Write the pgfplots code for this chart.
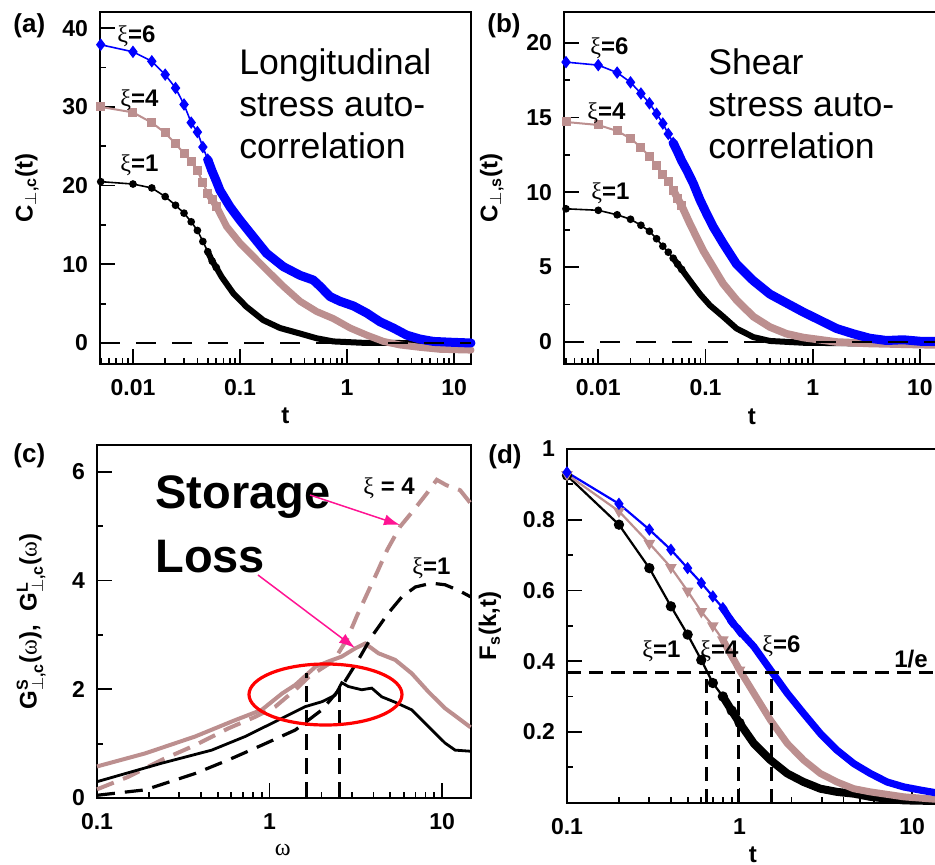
\documentclass[border=0pt]{standalone}
\usepackage{amsmath}
\usepackage{pgfplots}
\pgfplotsset{compat=1.18}
\usepackage{fontspec}
\setmainfont{Liberation Sans}
\newfontfamily\grk{Liberation Serif}
\usetikzlibrary{arrows.meta}
\definecolor{rb}{RGB}{188,143,143}
\definecolor{myblue}{RGB}{0,0,255}
\definecolor{hpink}{RGB}{255,20,147}
\newcommand{\xil}[1]{{\grk\mdseries ξ}\textbf{#1}}
\begin{document}
\begin{tikzpicture}
% ---------------- (a) ----------------
\begin{axis}[scale only axis, xmode=log, clip=false,
  axis line style={line width=1pt},
  tick style={black, line width=0.9pt},
  major tick length=7.5pt, minor tick length=3pt,
  tick align=inside, xtick pos=bottom, ytick pos=left,
  ticklabel style={font=\bfseries\fontsize{11.5}{12}\selectfont},
  /pgf/number format/assume math mode=true,
  xticklabel style={yshift=-4.4pt},
  yticklabel style={xshift=-2.5pt},
  label style={font=\bfseries\fontsize{12}{13}\selectfont},
  at={(50pt,-6pt)}, anchor=north west,
  width=185.5pt, height=176pt,
  xmin=0.00492, xmax=14.4, ymin=-2.67, ymax=42.06,
  xtick={0.01,0.1,1,10}, xticklabels={0.01,0.1,1,10},
  minor xtick={0.005,0.006,0.007,0.008,0.009,0.02,0.03,0.04,0.05,0.06,0.07,0.08,0.09,0.2,0.3,0.4,0.5,0.6,0.7,0.8,0.9,2,3,4,5,6,7,8,9},
  ytick={0,10,20,30,40}, minor ytick={5,15,25,35},
  ylabel={C\textsubscript{$\perp$,c}(t)}, xlabel={t},
  ylabel style={at={(axis description cs:-0.197,0.5)}, anchor=center},
  xlabel style={at={(axis description cs:0.5,-0.148)}, anchor=center},
]
\addplot[black, line width=0.8pt, mark=*, mark size=1.5pt] coordinates {(0.005,20.5) (0.01,20.2) (0.015,19.7) (0.02,18.6) (0.025,17.5) (0.03,16.5) (0.035,15.4) (0.04,14.3) (0.045,12.9) (0.05,11.6) (0.055,10.4) (0.06,9.6)};
\addplot[black, line join=round, line cap=round, line width=3pt] coordinates {(0.05,11.6) (0.055,10.4) (0.06,9.6) (0.0674,8.4) (0.0867,6.3) (0.115,4.6) (0.165,2.9) (0.237,1.9) (0.364,1.2) (0.52,0.6) (0.745,0.2) (1.53,0.0) (3.13,0.0) (6.4,-0.1) (14.4,-0.1)};
\addplot[rb, line width=1pt, mark=square*, mark size=1.75pt] coordinates {(0.005,30.0) (0.01,29.3) (0.015,28.0) (0.02,26.7) (0.025,25.3) (0.03,24.1) (0.035,23.0) (0.04,21.9) (0.045,20.4) (0.05,19.0) (0.055,18.2) (0.06,17.4)};
\addplot[rb, line join=round, line cap=round, line width=3.5pt] coordinates {(0.05,19.0) (0.055,18.2) (0.06,17.4) (0.075,14.8) (0.1,12.7) (0.133,11.0) (0.177,9.3) (0.254,7.2) (0.364,5.3) (0.52,4.0) (0.745,3.1) (1.07,1.9) (1.53,1.0) (2.19,0.2) (3.13,-0.25) (4.8,-0.55) (7.4,-0.8) (14.4,-0.9)};
\addplot[myblue, line width=0.8pt, mark=diamond*, mark size=2.5pt] coordinates {(0.005,37.9) (0.01,37.0) (0.015,35.8) (0.02,34.1) (0.025,32.4) (0.03,30.3) (0.035,28.0) (0.04,26.8) (0.045,24.9) (0.05,23.3) (0.055,21.8) (0.06,20.6)};
\addplot[myblue, line join=round, line cap=round, line width=4.5pt] coordinates {(0.05,23.3) (0.055,21.8) (0.06,20.6) (0.065,19.4) (0.0807,17.3) (0.1,15.6) (0.133,13.5) (0.177,11.4) (0.254,9.7) (0.364,8.6) (0.484,8.0) (0.56,7.2) (0.693,5.9) (0.861,5.3) (1.15,4.7) (1.53,3.8) (2.03,2.7) (2.71,1.9) (3.61,1.0) (4.81,0.5) (6.41,0.2) (9.18,0.1) (14.4,0.0)};
\addplot[black, line width=1.2pt, dash pattern=on 10pt off 8pt] coordinates {(0.00492,0) (14.4,0)};
\end{axis}
% ---------------- (b) ----------------
\begin{axis}[scale only axis, xmode=log, clip=false,
  axis line style={line width=1pt},
  tick style={black, line width=0.9pt},
  major tick length=7.5pt, minor tick length=3pt,
  tick align=inside, xtick pos=bottom, ytick pos=left,
  ticklabel style={font=\bfseries\fontsize{11.5}{12}\selectfont},
  /pgf/number format/assume math mode=true,
  xticklabel style={yshift=-4.4pt},
  yticklabel style={xshift=-2.5pt},
  label style={font=\bfseries\fontsize{12}{13}\selectfont},
  at={(282pt,-6pt)}, anchor=north west,
  width=187pt, height=176pt,
  xmin=0.00479, xmax=14.75, ymin=-1.47, ymax=22.05,
  xtick={0.01,0.1,1,10}, xticklabels={0.01,0.1,1,10},
  minor xtick={0.005,0.006,0.007,0.008,0.009,0.02,0.03,0.04,0.05,0.06,0.07,0.08,0.09,0.2,0.3,0.4,0.5,0.6,0.7,0.8,0.9,2,3,4,5,6,7,8,9},
  ytick={0,5,10,15,20}, minor ytick={2.5,7.5,12.5,17.5},
  ylabel={C\textsubscript{$\perp$,s}(t)}, xlabel={t},
  ylabel style={at={(axis description cs:-0.193,0.5)}, anchor=center},
  xlabel style={at={(axis description cs:0.502,-0.150)}, anchor=center},
]
\addplot[black, line width=0.8pt, mark=*, mark size=1.5pt] coordinates {(0.005,8.9) (0.01,8.8) (0.015,8.5) (0.02,8.2) (0.025,7.8) (0.03,7.4) (0.035,6.9) (0.04,6.4) (0.045,6.0) (0.05,5.6) (0.055,5.2) (0.06,4.85)};
\addplot[black, line join=round, line cap=round, line width=3pt] coordinates {(0.05,5.6) (0.055,5.2) (0.06,4.85) (0.0716,4.1) (0.0888,3.2) (0.11,2.45) (0.146,1.7) (0.195,0.9) (0.279,0.33) (0.399,0.07) (0.816,-0.05) (3.4,-0.1) (14.75,-0.1)};
\addplot[rb, line width=1pt, mark=square*, mark size=1.75pt] coordinates {(0.005,14.7) (0.01,14.5) (0.015,14.1) (0.02,13.6) (0.025,13.0) (0.03,12.4) (0.035,11.8) (0.04,11.2) (0.045,10.7) (0.05,10.15) (0.055,9.6) (0.06,9.1)};
\addplot[rb, line join=round, line cap=round, line width=3.8pt] coordinates {(0.05,10.15) (0.055,9.6) (0.06,9.1) (0.0716,7.9) (0.0826,7.0) (0.0953,6.1) (0.118,5.0) (0.146,3.9) (0.195,2.8) (0.279,1.7) (0.399,1.0) (0.57,0.55) (0.816,0.3) (1.67,0.0) (3.41,-0.1) (7,-0.15) (14.75,-0.2)};
\addplot[myblue, line width=0.8pt, mark=diamond*, mark size=2.5pt] coordinates {(0.005,18.7) (0.01,18.5) (0.015,18.0) (0.02,17.35) (0.025,16.6) (0.03,15.95) (0.035,15.25) (0.04,14.6) (0.045,13.9) (0.05,13.3) (0.055,12.7) (0.06,12.1)};
\addplot[myblue, line join=round, line cap=round, line width=4.5pt] coordinates {(0.05,13.3) (0.055,12.7) (0.06,12.1) (0.0667,11.5) (0.0769,10.6) (0.0888,9.5) (0.102,8.6) (0.118,7.7) (0.146,6.6) (0.195,5.2) (0.279,4.1) (0.399,3.2) (0.57,2.6) (0.816,2.0) (1.17,1.45) (1.67,0.9) (2.39,0.55) (3.41,0.25) (4.89,0.1) (7,0.15) (10,0.05) (14.75,0.05)};
\addplot[black, line width=1.2pt, dash pattern=on 10pt off 8pt] coordinates {(0.00479,0) (14.75,0)};
\end{axis}
% ---------------- (c) ----------------
\begin{axis}[scale only axis, xmode=log, clip=false,
  axis line style={line width=1pt},
  tick style={black, line width=0.9pt},
  major tick length=7.5pt, minor tick length=3pt,
  tick align=inside, xtick pos=bottom, ytick pos=left,
  ticklabel style={font=\bfseries\fontsize{11.5}{12}\selectfont},
  /pgf/number format/assume math mode=true,
  xticklabel style={yshift=-4.4pt},
  yticklabel style={xshift=-2.5pt},
  label style={font=\bfseries\fontsize{12}{13}\selectfont},
  at={(48.5pt,-222.5pt)}, anchor=north west,
  width=187pt, height=176.5pt,
  xmin=0.1, xmax=14.7, ymin=0, ymax=6.49,
  xtick={0.1,1,10}, xticklabels={0.1,1,10},
  minor xtick={0.2,0.3,0.4,0.5,0.6,0.7,0.8,0.9,2,3,4,5,6,7,8,9},
  ytick={0,2,4,6}, minor ytick={1,3,5},
  ylabel={G$^{\textbf{S}}_{\perp\textbf{,c}}$({\grk\mdseries ω}),\ \ G$^{\textbf{L}}_{\perp\textbf{,c}}$({\grk\mdseries ω})},
  xlabel={{\grk\mdseries ω}},
  ylabel style={at={(axis description cs:-0.176,0.5)}, anchor=center},
  xlabel style={at={(axis description cs:0.497,-0.147)}, anchor=center},
]
\addplot[rb, line width=2pt] coordinates {(0.1,0.58) (0.19,0.82) (0.37,1.13) (0.63,1.43) (0.90,1.62) (1.18,1.92) (1.41,2.08) (1.84,2.41) (2.19,2.51) (2.62,2.60) (3.13,2.75) (3.58,2.84) (4.28,2.66) (5.34,2.54) (6.67,2.29) (8.34,1.95) (10.4,1.65) (13.0,1.42) (14.6,1.30)};
\addplot[rb, line width=2pt, dash pattern=on 9pt off 5pt] coordinates {(0.1,0.16) (0.152,0.39) (0.237,0.70) (0.37,0.97) (0.577,1.28) (0.823,1.49) (1.08,1.68) (1.41,1.99) (1.68,2.22) (2.0,2.38) (2.35,2.52) (2.81,2.92) (3.21,3.35) (3.67,3.75) (4.20,4.15) (4.80,4.56) (5.71,4.99) (6.83,5.29) (8.15,5.60) (9.31,5.85) (10.6,5.75) (12.7,5.66) (14.6,5.42)};
\addplot[black, line width=1.4pt] coordinates {(0.1,0.30) (0.237,0.64) (0.462,0.88) (0.721,1.13) (1.12,1.43) (1.61,1.68) (2.01,1.77) (2.40,1.89) (2.62,2.12) (2.86,2.05) (3.42,1.99) (3.91,2.02) (4.47,1.86) (5.35,1.76) (6.67,1.62) (8.34,1.31) (10.4,1.01) (11.9,0.88) (14.6,0.86)};
\addplot[black, line width=1.6pt, dash pattern=on 9pt off 5pt] coordinates {(0.1,0.05) (0.19,0.15) (0.37,0.45) (0.577,0.70) (0.90,0.97) (1.41,1.25) (2.01,1.62) (2.62,2.05) (3.27,2.54) (3.91,2.97) (4.88,3.40) (5.85,3.70) (7.0,3.88) (8.7,3.95) (10.4,3.92) (12.4,3.82) (14.6,3.70)};
\addplot[black, line width=1.4pt, dash pattern=on 8pt off 4pt] coordinates {(1.64,0) (1.64,2.29)};
\addplot[black, line width=1.4pt, dash pattern=on 8pt off 4pt] coordinates {(2.54,0) (2.54,2.08)};
\end{axis}
% ---------------- (d) ----------------
\begin{axis}[scale only axis, xmode=log, clip=false,
  axis line style={line width=1pt},
  tick style={black, line width=0.9pt},
  major tick length=7.5pt, minor tick length=3pt,
  tick align=inside, xtick pos=bottom, ytick pos=left,
  ticklabel style={font=\bfseries\fontsize{11.5}{12}\selectfont},
  /pgf/number format/assume math mode=true,
  xticklabel style={yshift=-4.4pt},
  yticklabel style={xshift=-2.5pt},
  label style={font=\bfseries\fontsize{12}{13}\selectfont},
  at={(283.5pt,-224.5pt)}, anchor=north west,
  width=187pt, height=176.75pt,
  xmin=0.1, xmax=14.7, ymin=0, ymax=1,
  xtick={0.1,1,10}, xticklabels={0.1,1,10},
  minor xtick={0.2,0.3,0.4,0.5,0.6,0.7,0.8,0.9,2,3,4,5,6,7,8,9},
  ytick={0.2,0.4,0.6,0.8,1}, yticklabels={0.2,0.4,0.6,0.8,1},
  minor ytick={0.1,0.3,0.5,0.7,0.9},
  ylabel={F\textsubscript{s}(k,t)}, xlabel={t},
  ylabel style={at={(axis description cs:-0.206,0.5)}, anchor=center},
  xlabel style={at={(axis description cs:0.497,-0.148)}, anchor=center},
]
\addplot[black, line width=1.1pt, mark=*, mark size=2pt] coordinates {(0.1,0.925) (0.2,0.786) (0.3,0.663) (0.4,0.555) (0.5,0.475) (0.6,0.403) (0.7,0.338) (0.8,0.30) (0.9,0.26) (1.0,0.225)};
\addplot[black, line join=round, line cap=round, line width=4pt] coordinates {(0.8,0.30) (0.9,0.26) (1.0,0.225) (1.21,0.167) (1.51,0.120) (1.89,0.082) (2.35,0.058) (2.94,0.039) (3.67,0.030) (4.59,0.025) (5.73,0.016) (8.95,0.006) (14.7,0.004)};
\addplot[rb, line width=1.1pt, mark=triangle*, mark size=2.3pt, mark options={rotate=180}] coordinates {(0.1,0.928) (0.2,0.824) (0.3,0.733) (0.4,0.665) (0.5,0.598) (0.6,0.54) (0.7,0.50) (0.8,0.46) (0.9,0.415) (1.0,0.375)};
\addplot[rb, line join=round, line cap=round, line width=3.5pt] coordinates {(0.8,0.46) (0.9,0.415) (1.0,0.375) (1.21,0.309) (1.51,0.233) (1.89,0.167) (2.35,0.120) (2.94,0.082) (3.67,0.058) (4.59,0.039) (5.73,0.030) (8.95,0.016) (14.7,0.008)};
\addplot[myblue, line width=1.1pt, mark=diamond*, mark size=2.2pt] coordinates {(0.1,0.934) (0.2,0.845) (0.3,0.772) (0.4,0.715) (0.5,0.663) (0.6,0.621) (0.7,0.583) (0.8,0.550) (0.9,0.512) (1.0,0.485)};
\addplot[myblue, line join=round, line cap=round, line width=3.6pt] coordinates {(0.8,0.550) (0.9,0.512) (1.0,0.485) (1.21,0.441) (1.51,0.375) (1.89,0.309) (2.35,0.252) (2.94,0.195) (3.67,0.148) (4.59,0.110) (5.73,0.082) (7.16,0.058) (8.95,0.044) (11.2,0.035) (14.7,0.025)};
\addplot[black, line width=1.4pt, dash pattern=on 7pt off 4pt] coordinates {(0.1,0.368) (14.7,0.368)};
\addplot[black, line width=1.5pt, dash pattern=on 7pt off 4pt] coordinates {(0.64,0) (0.64,0.368)};
\addplot[black, line width=1.5pt, dash pattern=on 7pt off 4pt] coordinates {(0.99,0) (0.99,0.368)};
\addplot[black, line width=1.5pt, dash pattern=on 7pt off 4pt] coordinates {(1.54,0) (1.54,0.368)};
\end{axis}
% ---------------- annotations (pixel coordinates) ----------------
\begin{scope}[x=0.5pt, y=-0.5pt]
  \node[anchor=base west, inner sep=0pt, font=\bfseries\fontsize{13}{14}\selectfont] at (13,33) {(a)};
  \node[anchor=base west, inner sep=0pt, font=\bfseries\fontsize{13}{14}\selectfont] at (487,33) {(b)};
  \node[anchor=base west, inner sep=0pt, font=\bfseries\fontsize{13}{14}\selectfont] at (13,462) {(c)};
  \node[anchor=base west, inner sep=0pt, font=\bfseries\fontsize{13}{14}\selectfont] at (488,463) {(d)};
  \begin{scope}[every node/.style={anchor=base west, inner sep=0pt, font=\fontsize{17.8}{21}\selectfont}]
    \node at (239,75) {Longitudinal};
    \node at (239,117) {stress auto-};
    \node at (239,159) {correlation};
    \node at (708,75) {Shear};
    \node at (708,117) {stress auto-};
    \node at (708,159) {correlation};
  \end{scope}
  \begin{scope}[every node/.style={anchor=base west, inner sep=0pt, font=\bfseries\fontsize{23.5}{28}\selectfont}]
    \node at (155,508) {Storage};
    \node at (155,572) {Loss};
  \end{scope}
  \begin{scope}[every node/.style={anchor=base west, inner sep=0pt, font=\fontsize{12}{13}\selectfont}]
    \node at (117,43) {\xil{=6}};
    \node at (120,107) {\xil{=4}};
    \node at (120,172) {\xil{=1}};
    \node at (590,55) {\xil{=6}};
    \node at (587,120) {\xil{=4}};
    \node at (591,200) {\xil{=1}};
    \node at (363,494) {{\grk\mdseries ξ}\textbf{ = 4}};
    \node at (412,574) {\xil{=1}};
    \node at (642,657) {\xil{=1}};
    \node at (700,657) {\xil{=4}};
    \node at (762,652) {\xil{=6}};
    \node[anchor=base east] at (928,667) {\textbf{1/e}};
  \end{scope}
  \draw[hpink, line width=0.75pt, -{Latex[length=8pt,width=5.5pt]}] (310,495) -- (400,525);
  \draw[hpink, line width=0.75pt, -{Latex[length=8pt,width=5.5pt]}] (258,575) -- (355,648);
  \draw[red, line width=1.6pt] (325.5,694.5) ellipse [x radius=38.25pt, y radius=15.25pt];
\end{scope}
\pgfresetboundingbox
\path[use as bounding box] (0,0) rectangle (467.5pt,-432.5pt);
\end{tikzpicture}
\end{document}
